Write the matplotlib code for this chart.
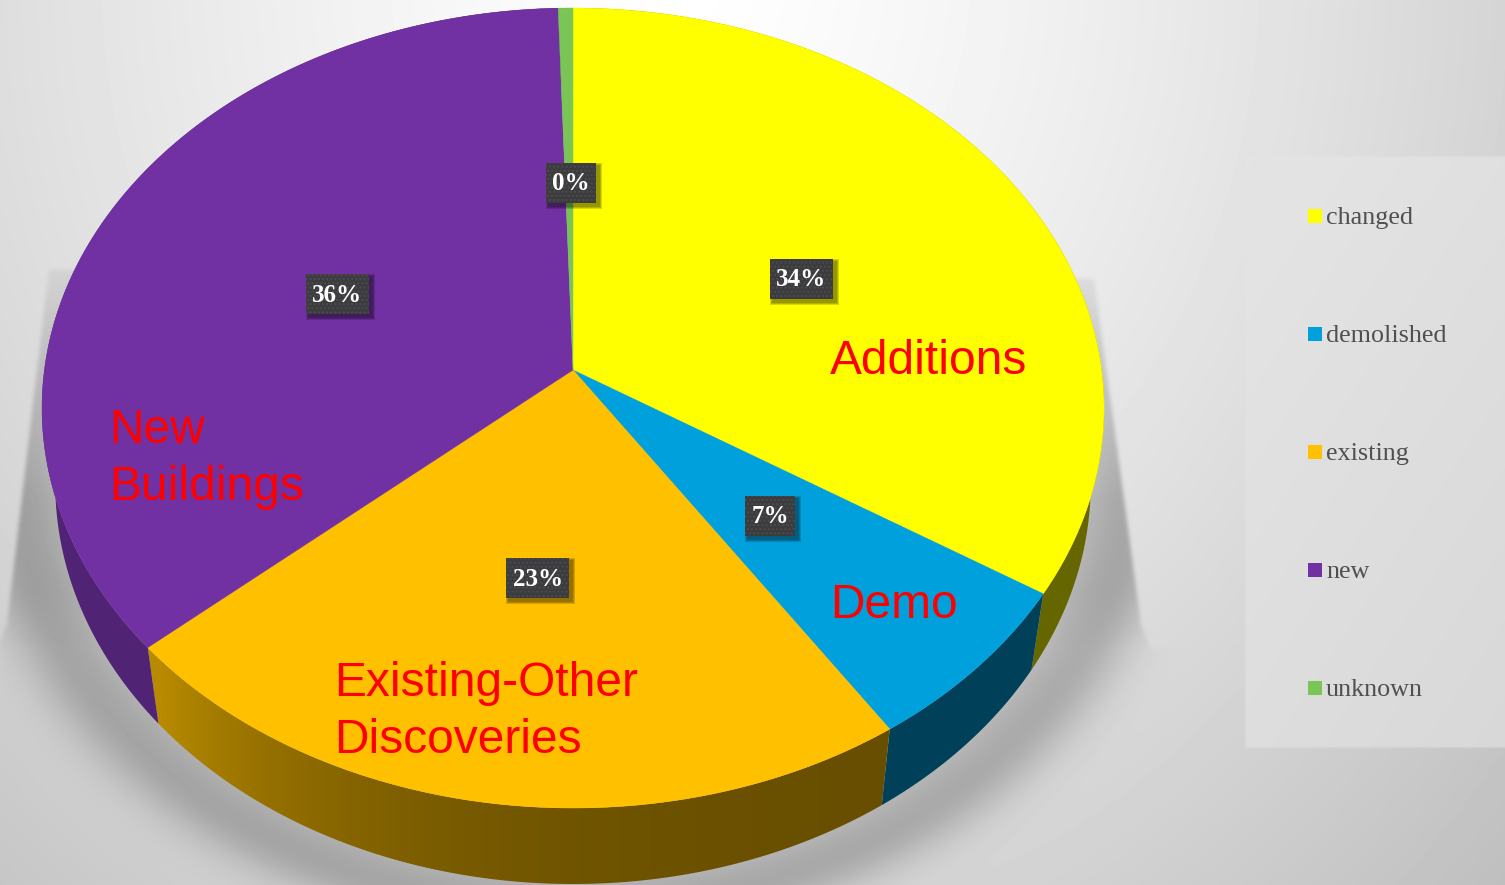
import numpy as np
import matplotlib
matplotlib.use('Agg')
import matplotlib.pyplot as plt
from matplotlib.colors import to_rgb
from matplotlib.patches import Polygon, Rectangle
from matplotlib.path import Path

categories = ['changed', 'demolished', 'existing', 'new', 'unknown']
values = [34.0, 6.7, 22.9, 35.91, 0.49]
colors = ['#FFFF00', '#00A0DC', '#FFC000', '#7131A2', '#7AC555']
notes = ['Additions', 'Demo', 'Existing-Other\nDiscoveries', 'New\nBuildings']
note_spots = [(830, 362), (830, 606), (334, 712), (109, 459)]

W, H = 1505, 885
CX, CY = 573, 370       # pie centre on the page
RX, RY = 528.6, 396.4   # top disc radii
K = 0.095               # perspective strength
DEPTH = 76              # how far the bottom disc drops
SHRINK = 0.975          # bottom disc is a bit narrower


def project(theta, r=1.0, bottom=False):
    # theta in radians, clockwise from 12 o'clock
    x = r * np.sin(theta)
    y = r * np.cos(theta)
    d = 1 + K * y
    px = RX * x / d
    py = -RY * y / d
    if bottom:
        return CX + SHRINK * px, CY + DEPTH + py
    return CX + px, CY + py


def box_blur(a, n):
    # three passes of a running mean along both axes
    for _ in range(3):
        for axis in (0, 1):
            pad = [(0, 0), (0, 0)]
            pad[axis] = (n, n)
            c = np.cumsum(np.pad(a, pad, mode='edge'), axis=axis)
            hi = np.take(c, range(2 * n, c.shape[axis]), axis=axis)
            lo = np.take(c, range(0, c.shape[axis] - 2 * n), axis=axis)
            a = (hi - lo) / (2 * n)
    return a


def polygon_mask(pts, xx, yy):
    inside = Path(pts).contains_points(np.c_[xx.ravel(), yy.ravel()])
    return inside.reshape(xx.shape).astype(float)


def make_background():
    yy, xx = np.mgrid[0:H, 0:W]
    dist = np.hypot(xx - 680, (yy + 30) * 0.85)
    grey = 1.0 - 0.24 * (dist / 1090) ** 1.3

    # drop shadow: a soft band around the underside, cut off at the two slanted edges
    e = np.hypot((xx - CX) / 530, (yy - 472) / 414)
    band = np.where(e > 1.05, np.exp(-((e - 1.05) / 0.085) ** 2),
                    np.exp(-((e - 1.05) / 0.12) ** 2))
    fade = np.clip((yy - 260) / 240, 0, 1)
    hull = polygon_mask([(50, 270), (8, 625), (0, 645), (0, H), (W, H), (W, 645),
                         (1152, 650), (1142, 625), (1095, 280)], xx, yy)
    hull = box_blur(hull, 2)
    grey = grey * (1 - 0.22 * band * fade * hull)

    # faint flat streak up to the slanted edges
    streak = hull * np.clip((650 - yy) / 60, 0, 1)
    grey = grey * (1 - 0.045 * streak)

    # legend panel
    panel = box_blur(polygon_mask([(1247, 157), (W + 20, 157), (W + 20, 748), (1247, 748)], xx, yy), 1)
    panel_grey = 0.895 - 0.02 * (xx - 1247) / 258 - 0.03 * (yy - 157) / 591
    return grey * (1 - panel) + panel_grey * panel


def side_shade(x):
    return 0.40 + 0.32 * np.exp(-np.clip(x - 160, 0, None) / 200)


fig = plt.figure(figsize=(W / 100, H / 100), dpi=100)
ax = fig.add_axes([0, 0, 1, 1])
ax.set_xlim(0, W)
ax.set_ylim(H, 0)
ax.axis('off')
ax.imshow(make_background(), cmap='gray', vmin=0, vmax=1, extent=(0, W, H, 0),
          aspect='auto', zorder=0)

edges = np.r_[0, np.cumsum(values)] / np.sum(values) * 2 * np.pi

# rim of the pie, a horizontal shading clipped to each slice's side
for i, col in enumerate(colors):
    th = np.linspace(edges[i], edges[i + 1], 200)
    tx, ty = project(th)
    bx, by = project(th, bottom=True)
    outline = np.c_[np.r_[tx, bx[::-1]], np.r_[ty, by[::-1]]]
    x0, x1 = outline[:, 0].min(), outline[:, 0].max()
    y0, y1 = outline[:, 1].min(), outline[:, 1].max()
    xs = np.linspace(x0, x1, 256)
    shade = np.outer(side_shade(xs), to_rgb(col))[np.newaxis, :, :]
    im = ax.imshow(shade, extent=(x0, x1, y1, y0), aspect='auto', zorder=2)
    im.set_clip_path(Polygon(outline, transform=ax.transData))

# top face
for i, col in enumerate(colors):
    th = np.linspace(edges[i], edges[i + 1], 200)
    x, y = project(th)
    ax.fill(np.r_[CX, x], np.r_[CY, y], color=col, lw=0.3, zorder=3)

# value labels, dark boxes half way out along each slice
for i, v in enumerate(values):
    mid = (edges[i] + edges[i + 1]) / 2
    x, y = project(mid, r=0.5)
    x, y = x + 2, y + 2
    label = f'{v:.0f}%'
    w = 24 + 13 * len(label)
    for grow in (3, 2, 1):
        ax.add_patch(Rectangle((x - w / 2 + 3 - grow, y - 17 - grow), w + 2 * grow, 40 + 2 * grow,
                               fc='black', ec='none', alpha=0.16, zorder=4))
    ax.add_patch(Rectangle((x - w / 2, y - 20), w, 40, fc='#3C3C3E', ec='#4C4C50', lw=0,
                           hatch='....', zorder=4.5))
    ax.text(x, y + 1, label, color='white', fontsize=18, fontweight='bold',
            family='Liberation Serif', ha='center', va='center', zorder=5)

# hand-placed notes on the slices
for txt, (x, y) in zip(notes, note_spots):
    ax.text(x, y, txt, color='#FF0000', fontsize=34.5, family='Liberation Sans',
            ha='left', va='center', linespacing=1.34, zorder=6)

# legend entries
for i, (name, col) in enumerate(zip(categories, colors)):
    y = 216 + 118 * i
    ax.scatter([1314.5], [y], marker='s', s=88, color=col, linewidths=0, zorder=7)
    ax.text(1326, y + 2, name, color='#505050', fontsize=18.8, family='Liberation Serif',
            ha='left', va='center', zorder=7)

fig.savefig('out.png', dpi=100)
